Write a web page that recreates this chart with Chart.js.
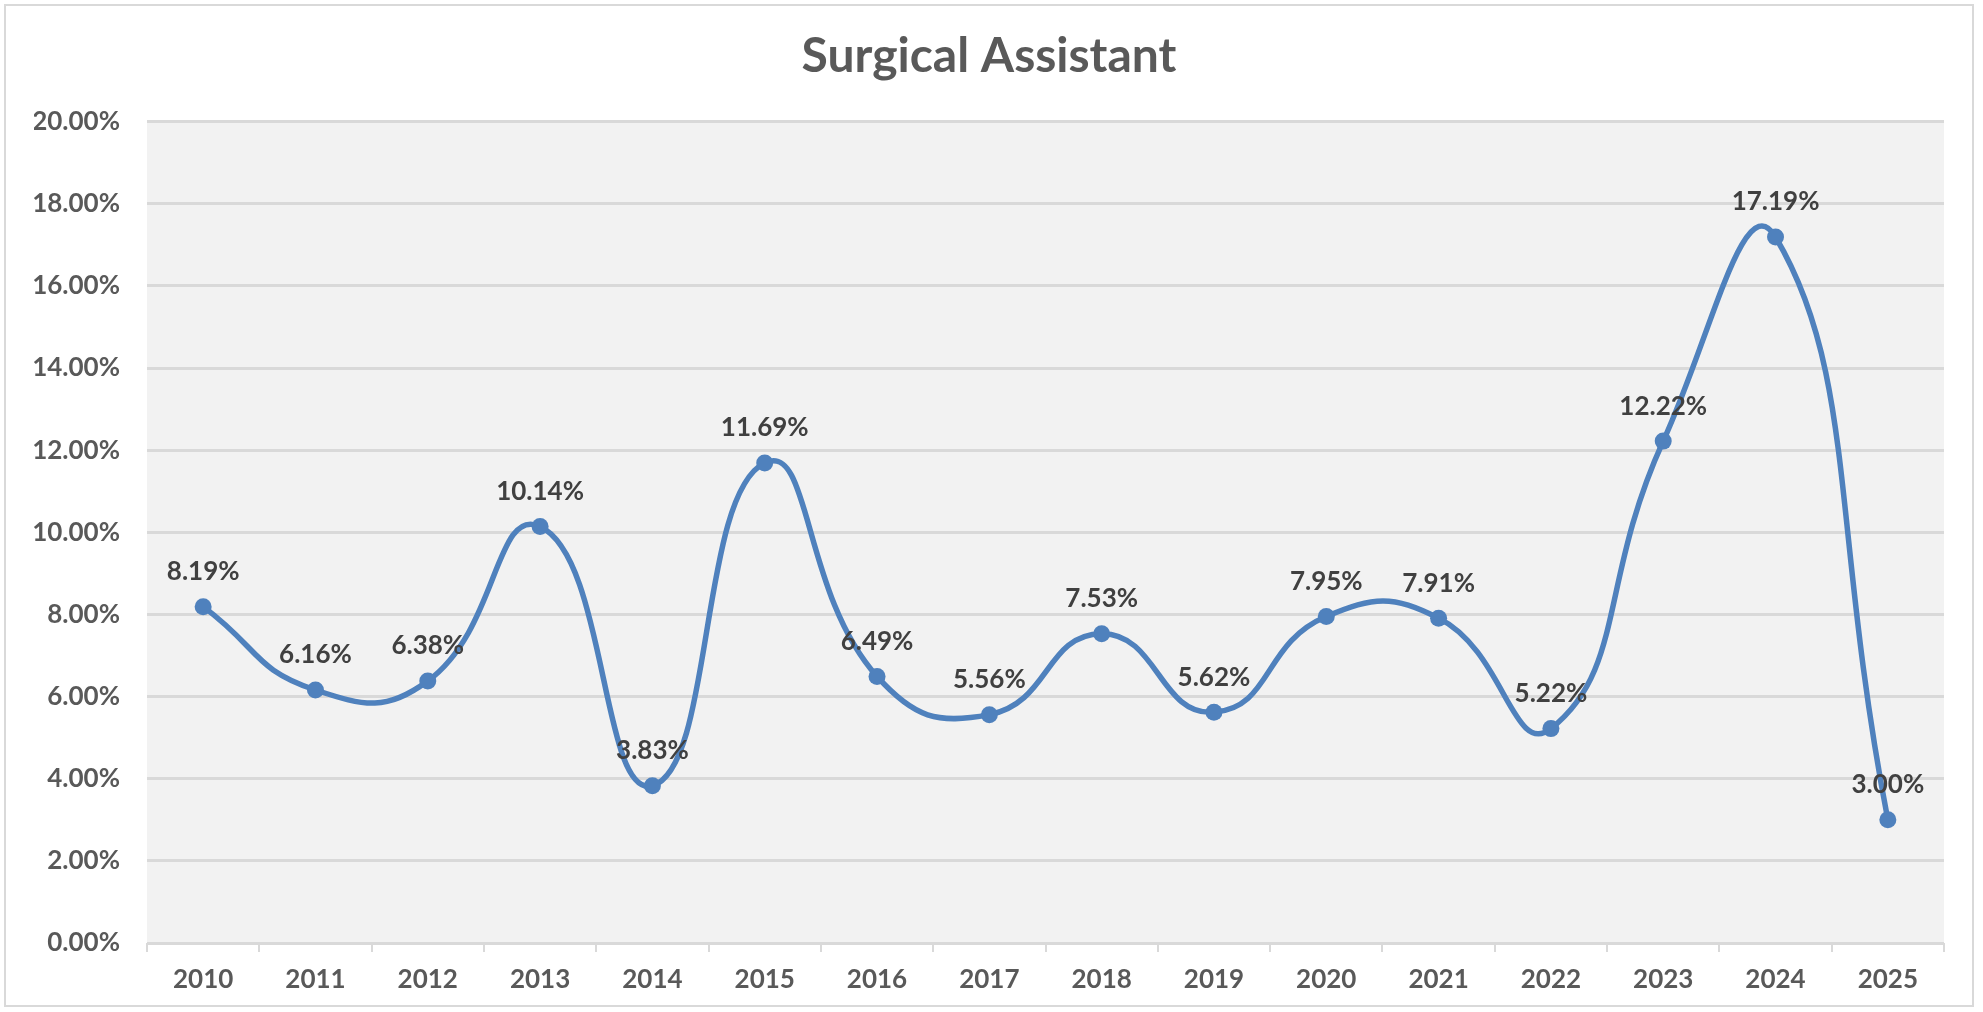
<!DOCTYPE html>
<html>
<head>
<meta charset="utf-8">
<script src="https://cdn.jsdelivr.net/npm/chart.js@4"></script>
<style>
  html, body { margin: 0; padding: 0; background: #fff; }
  #wrap { width: 1983px; height: 1012px; }
</style>
</head>
<body>
<div id="wrap"><canvas id="myChart"></canvas></div>
<script>
    // data
    const years = ['2010', '2011', '2012', '2013', '2014', '2015', '2016', '2017',
                   '2018', '2019', '2020', '2021', '2022', '2023', '2024', '2025'];
    const rates = [8.19, 6.16, 6.38, 10.14, 3.83, 11.69, 6.49, 5.56,
                   7.53, 5.62, 7.95, 7.91, 5.22, 12.22, 17.19, 3.00];
    const yTicks = [0, 2, 4, 6, 8, 10, 12, 14, 16, 18, 20];

    const fontName = 'Lato';
    const blue = '#4F81BD';

    // grey plot area + outer frame
    const backdrop = {
        id: 'backdrop',
        beforeDraw(chart) {
            const c = chart.ctx, a = chart.chartArea;
            c.save();
            c.fillStyle = '#fff';
            c.fillRect(0, 0, chart.width, chart.height);
            c.strokeStyle = '#d9d9d9';
            c.lineWidth = 2;
            c.strokeRect(5, 5, 1968, 1001);
            c.fillStyle = '#f2f2f2';
            c.fillRect(a.left, a.top, a.right - a.left, a.bottom - a.top);
            c.restore();
        }
    };

    // value labels above each point
    const valueLabels = {
        id: 'valueLabels',
        afterDatasetsDraw(chart) {
            const c = chart.ctx;
            const meta = chart.getDatasetMeta(0);
            c.save();
            c.font = 'bold 26px ' + fontName;
            c.fillStyle = '#404040';
            c.textAlign = 'center';
            c.textBaseline = 'middle';
            meta.data.forEach((pt, i) => {
                c.fillText(rates[i].toFixed(2) + '%', pt.x, pt.y - 35);
            });
            c.restore();
        }
    };

    const data = {
        labels: years,
        datasets: [
            {
                label: 'Surgical Assistant',
                data: rates,
                borderColor: blue,
                backgroundColor: blue,
                borderWidth: 5.5,
                pointRadius: 8.5,
                pointBorderWidth: 0,
                pointBackgroundColor: blue,
                tension: 0.5,
                fill: false
            }
        ]
    };

    const config = {
        type: 'line',
        data: data,
        options: {
            responsive: true,
            maintainAspectRatio: false,
            animation: false,
            layout: { padding: { left: 34, right: 39, top: 0, bottom: 0 } },
            plugins: {
                legend: { display: false },
                tooltip: { enabled: false },
                title: {
                    display: true,
                    text: 'Surgical Assistant',
                    color: '#595959',
                    font: { family: fontName, size: 48, weight: 'bold' },
                    padding: { top: 28, bottom: 36 }
                }
            },
            scales: {
                x: {
                    offset: true,
                    grid: {
                        offset: true,
                        drawOnChartArea: false,
                        drawTicks: true,
                        tickLength: 9,
                        color: '#d9d9d9',
                        lineWidth: 2
                    },
                    border: { display: false },
                    ticks: {
                        color: '#595959',
                        font: { family: fontName, size: 26, weight: 'bold' },
                        padding: 12,
                        maxRotation: 0
                    },
                    afterFit(scale) { scale.height = 69; }
                },
                y: {
                    min: 0,
                    max: 20,
                    afterBuildTicks(scale) {
                        scale.ticks = yTicks.map(v => ({ value: v }));
                    },
                    grid: {
                        color: '#d9d9d9',
                        lineWidth: 3,
                        drawTicks: false
                    },
                    border: { display: false },
                    ticks: {
                        color: '#595959',
                        font: { family: fontName, size: 26, weight: 'bold' },
                        padding: 27,
                        callback: v => v.toFixed(2) + '%'
                    },
                    afterFit(scale) { scale.width = 113; }
                }
            }
        },
        plugins: [backdrop, valueLabels]
    };

    const myChart = new Chart(document.getElementById('myChart'), config);
</script>
</body>
</html>
